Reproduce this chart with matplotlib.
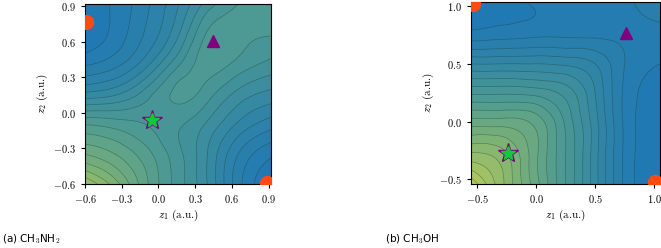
import numpy as np
import matplotlib
matplotlib.use("Agg")
import matplotlib.pyplot as plt
import matplotlib.tri as mtri
from matplotlib.colors import LinearSegmentedColormap
from matplotlib.ticker import FixedLocator, FuncFormatter

plt.rcParams["mathtext.fontset"] = "cm"
plt.rcParams["font.family"] = "DejaVu Serif"

# ---------------------------------------------------------------- data
# (a) CH3NH2 : surface read off on a coarse grid (rows top -> bottom)
a_z1 = [-0.6, -0.35, -0.1, 0.15, 0.4, 0.65, 0.92]
a_z2 = [0.92, 0.65, 0.4, 0.15, -0.1, -0.35, -0.6]
a_E = [
    [0.03, 0.06, 0.14, 0.24, 0.37, 0.45, 0.49],
    [0.01, 0.07, 0.16, 0.29, 0.46, 0.47, 0.45],
    [0.10, 0.14, 0.24, 0.39, 0.47, 0.43, 0.38],
    [0.27, 0.30, 0.38, 0.46, 0.42, 0.33, 0.28],
    [0.50, 0.48, 0.45, 0.41, 0.34, 0.24, 0.17],
    [0.65, 0.60, 0.52, 0.42, 0.30, 0.15, 0.06],
    [0.85, 0.72, 0.56, 0.43, 0.30, 0.12, 0.00],
]
a_minima = [(-0.59, 0.77), (0.89, -0.59)]
a_ts = (0.45, 0.61)
a_star = (-0.05, -0.06)
a_ticks = [-0.6, -0.3, 0.0, 0.3, 0.6, 0.9]

# (b) CH3OH
b_z1 = [-0.55, -0.3, 0.0, 0.25, 0.5, 0.75, 1.05]
b_z2 = [1.05, 0.75, 0.5, 0.25, 0.0, -0.3, -0.55]
b_E = [
    [0.00, 0.03, 0.06, 0.07, 0.08, 0.09, 0.14],
    [0.07, 0.08, 0.09, 0.09, 0.09, 0.09, 0.08],
    [0.25, 0.25, 0.25, 0.24, 0.20, 0.10, 0.05],
    [0.44, 0.44, 0.43, 0.38, 0.25, 0.09, 0.03],
    [0.62, 0.62, 0.58, 0.44, 0.27, 0.09, 0.02],
    [0.82, 0.78, 0.61, 0.45, 0.27, 0.09, 0.01],
    [1.00, 0.82, 0.62, 0.45, 0.27, 0.09, 0.00],
]
b_minima = [(-0.53, 1.02), (1.01, -0.52)]
b_ts = (0.76, 0.77)
b_star = (-0.24, -0.27)
b_ticks = [-0.5, 0.0, 0.5, 1.0]

cmap = LinearSegmentedColormap.from_list(
    "pes", ["#1f77b4", "#3287a5", "#509b91", "#82b473", "#bccd5a"])
levels = np.linspace(0.0, 1.0, 21)


def panel(ax, z1, z2, E, minima, ts, star, ticks, lims):
    X, Y = np.meshgrid(z1, z2)
    tri = mtri.Triangulation(X.ravel(), Y.ravel())
    refiner = mtri.UniformTriRefiner(tri)
    tri_f, E_f = refiner.refine_field(np.asarray(E).ravel(), subdiv=4)
    ax.tricontourf(tri_f, E_f, levels=levels, cmap=cmap, vmin=0, vmax=1,
                   extend="both")
    ax.tricontour(tri_f, E_f, levels=levels, colors="#1a3a3a",
                  linewidths=0.5, alpha=0.45)
    for m in minima:
        ax.plot(*m, "o", color="#ff4a12", ms=10, zorder=5)
    ax.plot(*ts, "^", color="purple", ms=9, zorder=5)
    # purple-edged star, green body drawn on top so the fill shows
    ax.plot(*star, marker="*", ls="none", color="purple", ms=15, zorder=6)
    ax.plot(*star, marker="*", ls="none", color="#14c83a", ms=10.5, zorder=7)
    ax.set_xlim(*lims[0])
    ax.set_ylim(*lims[1])
    fmt = FuncFormatter(lambda v, p: f"${v:.1f}$")
    for axis in (ax.xaxis, ax.yaxis):
        axis.set_major_locator(FixedLocator(ticks))
        axis.set_major_formatter(fmt)
    ax.tick_params(labelsize=7.5, length=3, width=0.8)
    ax.set_xlabel(r"$z_1$ (a.u.)", family="cmr10", fontsize=8, labelpad=2)
    ax.set_ylabel(r"$z_2$ (a.u.)", family="cmr10", fontsize=8, labelpad=2)


fig = plt.figure(figsize=(6.61, 2.48), dpi=100)
ax1 = fig.add_axes([0.1286, 0.258, 0.2814, 0.726])
ax2 = fig.add_axes([0.7126, 0.258, 0.286, 0.734])
panel(ax1, a_z1, a_z2, a_E, a_minima, a_ts, a_star, a_ticks,
      ((-0.6, 0.92), (-0.6, 0.92)))
panel(ax2, b_z1, b_z2, b_E, b_minima, b_ts, b_star, b_ticks,
      ((-0.55, 1.05), (-0.54, 1.035)))

fig.text(0.003, 0.025, r"(a) CH$_3$NH$_2$", family="DejaVu Sans", fontsize=7.5)
fig.text(0.582, 0.025, r"(b) CH$_3$OH", family="DejaVu Sans", fontsize=7.5)

fig.savefig("out.png", dpi=100)
